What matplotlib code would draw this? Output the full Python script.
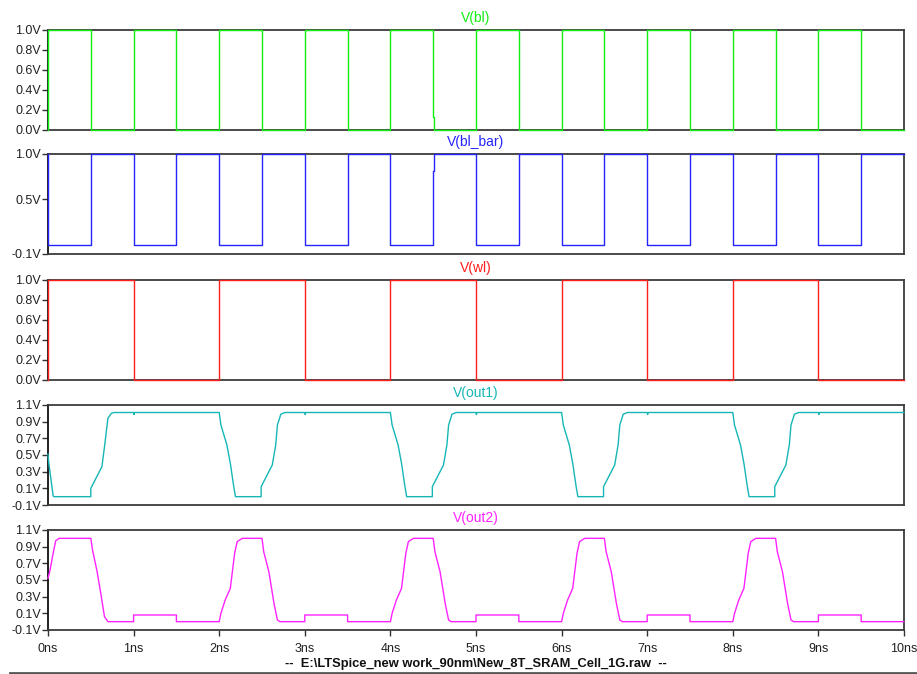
import matplotlib.pyplot as plt
from matplotlib.lines import Line2D

plt.rcParams['font.family'] = ['Liberation Sans', 'DejaVu Sans']

# time in ns, voltage in V
bl_t = [0, 0, 0.5, 1.0, 1.5, 2.0, 2.5, 3.0, 3.5, 4.0, 4.5, 4.51, 5.0, 5.5,
        6.0, 6.5, 7.0, 7.5, 8.0, 8.5, 9.0, 9.5, 10.0]
bl_v = [0, 1, 0, 1, 0, 1, 0, 1, 0, 1, 0.13, 0, 1, 0, 1, 0, 1, 0, 1, 0, 1, 0, 0]

blbar_t = [0, 0, 0.5, 1.0, 1.5, 2.0, 2.5, 3.0, 3.5, 4.0, 4.5, 4.51, 5.0, 5.5,
           6.0, 6.5, 7.0, 7.5, 8.0, 8.5, 9.0, 9.5, 10.0]
blbar_v = [1, 0, 1, 0, 1, 0, 1, 0, 1, 0, 0.81, 1, 0, 1, 0, 1, 0, 1, 0, 1, 0, 1, 1]

wl_t = [0, 0, 1, 2, 3, 4, 5, 6, 7, 8, 9, 10]
wl_v = [0, 1, 0, 1, 0, 1, 0, 1, 0, 1, 0, 0]

out1_t = [0, 0.01, 0.06, 0.07, 0.5, 0.5, 0.56, 0.63, 0.66, 0.70, 0.74, 0.77,
          1.0, 1.005, 1.01, 2.0,
          2.02, 2.09, 2.13, 2.17, 2.19, 2.49, 2.49, 2.54, 2.62, 2.66, 2.68, 2.72, 2.77,
          3.0, 3.005, 3.01, 4.0,
          4.02, 4.09, 4.13, 4.17, 4.19, 4.49, 4.49, 4.54, 4.62, 4.66, 4.68, 4.72, 4.77,
          5.0, 5.005, 5.01, 6.0,
          6.02, 6.09, 6.13, 6.17, 6.19, 6.49, 6.49, 6.54, 6.62, 6.66, 6.68, 6.72, 6.77,
          7.0, 7.005, 7.01, 8.0,
          8.02, 8.09, 8.13, 8.17, 8.19, 8.49, 8.49, 8.54, 8.62, 8.66, 8.68, 8.72, 8.77,
          9.0, 9.005, 9.01, 10.0]
out1_v = [0.51, 0.40, 0.01, 0.0, 0.0, 0.10, 0.22, 0.36, 0.60, 0.94, 1.0, 1.01,
          1.01, 0.985, 1.01, 1.01,
          0.86, 0.62, 0.40, 0.12, 0.0, 0.0, 0.12, 0.22, 0.38, 0.62, 0.86, 0.99, 1.01,
          1.01, 0.985, 1.01, 1.01,
          0.86, 0.62, 0.40, 0.12, 0.0, 0.0, 0.12, 0.22, 0.38, 0.62, 0.86, 0.99, 1.01,
          1.01, 0.985, 1.01, 1.01,
          0.86, 0.62, 0.40, 0.12, 0.0, 0.0, 0.12, 0.22, 0.38, 0.62, 0.86, 0.99, 1.01,
          1.01, 0.985, 1.01, 1.01,
          0.86, 0.62, 0.40, 0.12, 0.0, 0.0, 0.12, 0.22, 0.38, 0.62, 0.86, 0.99, 1.01,
          1.01, 0.985, 1.01, 1.01]

out2_t = [0, 0.02, 0.06, 0.09, 0.13, 0.5, 0.52, 0.57, 0.61, 0.66, 0.70, 1.0, 1.0, 1.5, 1.5,
          2.0, 2.02, 2.07, 2.13, 2.18, 2.21, 2.27, 2.5, 2.52, 2.58, 2.64, 2.68, 2.71,
          3.0, 3.0, 3.5, 3.5,
          4.0, 4.02, 4.07, 4.13, 4.18, 4.21, 4.27, 4.5, 4.52, 4.58, 4.64, 4.68, 4.71,
          5.0, 5.0, 5.5, 5.5,
          6.0, 6.02, 6.07, 6.13, 6.18, 6.21, 6.27, 6.5, 6.52, 6.58, 6.64, 6.68, 6.71,
          7.0, 7.0, 7.5, 7.5,
          8.0, 8.02, 8.07, 8.13, 8.18, 8.21, 8.27, 8.5, 8.52, 8.58, 8.64, 8.68, 8.71,
          9.0, 9.0, 9.5, 9.5, 10.0]
out2_v = [0.52, 0.60, 0.82, 0.97, 1.0, 1.0, 0.86, 0.62, 0.38, 0.06, 0.0, 0.0, 0.08, 0.08, 0.0,
          0.0, 0.10, 0.26, 0.40, 0.82, 0.96, 1.0, 1.0, 0.84, 0.60, 0.22, 0.02, 0.0,
          0.0, 0.08, 0.08, 0.0,
          0.0, 0.10, 0.26, 0.40, 0.82, 0.96, 1.0, 1.0, 0.84, 0.60, 0.22, 0.02, 0.0,
          0.0, 0.08, 0.08, 0.0,
          0.0, 0.10, 0.26, 0.40, 0.82, 0.96, 1.0, 1.0, 0.84, 0.60, 0.22, 0.02, 0.0,
          0.0, 0.08, 0.08, 0.0,
          0.0, 0.10, 0.26, 0.40, 0.82, 0.96, 1.0, 1.0, 0.84, 0.60, 0.22, 0.02, 0.0,
          0.0, 0.08, 0.08, 0.0, 0.0]

x_ticks = list(range(11))
x_labels = [f'{i}ns' for i in x_ticks]

W, H = 917, 674
fig = plt.figure(figsize=(W / 100, H / 100), dpi=100)
fig.patch.set_facecolor('white')

# name, t, v, colour, steps, ylim, yticks, top px, bottom px
panels = [
    ('V(bl)', bl_t, bl_v, '#12ee12', True, (0, 1.0), [0, 0.2, 0.4, 0.6, 0.8, 1.0], 30, 130),
    ('V(bl_bar)', blbar_t, blbar_v, '#2424ff', True, (-0.1, 1.0), [-0.1, 0.5, 1.0], 154, 254),
    ('V(wl)', wl_t, wl_v, '#ff1e1e', True, (0, 1.0), [0, 0.2, 0.4, 0.6, 0.8, 1.0], 280, 380),
    ('V(out1)', out1_t, out1_v, '#16b6b6', False, (-0.1, 1.1),
     [-0.1, 0.1, 0.3, 0.5, 0.7, 0.9, 1.1], 405, 505),
    ('V(out2)', out2_t, out2_v, '#ff22ff', False, (-0.1, 1.1),
     [-0.1, 0.1, 0.3, 0.5, 0.7, 0.9, 1.1], 530, 630),
]

left, right = 48, 904
for i, (name, t, v, c, steps, ylim, yt, top, bot) in enumerate(panels):
    ax = fig.add_axes([left / W, 1 - bot / H, (right - left) / W, (bot - top) / H])
    ax.plot(t, v, color=c, lw=1.0, clip_on=False, zorder=5,
            drawstyle='steps-post' if steps else 'default')
    ax.set_xlim(0, 10)
    ax.set_ylim(*ylim)
    ax.set_yticks(yt)
    ax.set_yticklabels([f'{y:.1f}V' for y in yt])
    ax.tick_params(axis='y', direction='out', length=4, width=1, pad=1,
                   labelsize=9, color='#333333', labelcolor='#222222')
    if i == len(panels) - 1:
        ax.set_xticks(x_ticks)
        ax.set_xticklabels(x_labels)
        ax.tick_params(axis='x', direction='out', length=4, width=1, pad=5,
                       labelsize=9, color='#333333', labelcolor='#222222')
    else:
        ax.set_xticks([])
    for s in ax.spines.values():
        s.set_color('#3c3c3c')
        s.set_linewidth(1.3)
    ax.spines['left'].set_color('#111111')
    ax.set_title(name, color=c, fontsize=10, pad=6)

fig.text(476 / W, 1 - 664 / H,
         '--  E:\\LTSpice_new work_90nm\\New_8T_SRAM_Cell_1G.raw  --',
         ha='center', va='center', fontsize=9.3, fontweight='bold', color='#111111')
fig.add_artist(Line2D([10 / W, 1.0], [1 - 672.5 / H] * 2, color='#555555', lw=2))

fig.savefig('out.png', dpi=100)
